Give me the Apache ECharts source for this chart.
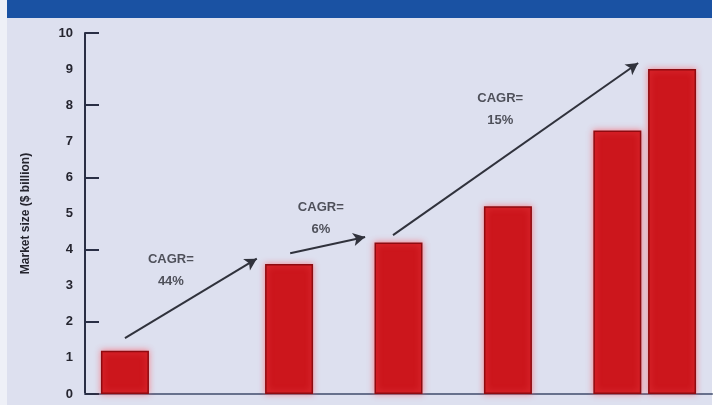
<!DOCTYPE html>
<html>
<head>
<meta charset="utf-8">
<script src="https://cdn.jsdelivr.net/npm/echarts@6/dist/echarts.min.js"></script>
<style>html,body{margin:0;padding:0;background:#fff;}#c{width:720px;height:405px;}</style>
</head>
<body>
<div id="c"></div>
<script>
// Data (x = years from first bar, y = market size in $ billion)
var yearOffsets = [0, 3, 5, 7, 9, 10];
var marketSize = [1.2, 3.6, 4.2, 5.2, 7.3, 9.0];
var yTickLabels = ['0','1','2','3','4','5','6','7','8','9','10'];
// CAGR arrows: [startX, startY, endX, endY]
var arrows = [
  [0.0, 1.55, 2.41, 3.75],
  [3.02, 3.9, 4.39, 4.35],
  [4.9, 4.4, 9.38, 9.17]
];
var cagrLabels = ['CAGR=\n44%', 'CAGR=\n6%', 'CAGR=\n15%'];
var cagrLabelPos = [[0.84, 3.43], [3.58, 4.87], [6.86, 7.87]];

var chart = echarts.init(document.getElementById('c'));
var barData = yearOffsets.map(function (x, i) { return [x, marketSize[i]]; });
var markLines = arrows.map(function (a) {
  return [{ coord: [a[0], a[1]] }, { coord: [a[2], a[3]] }];
});
var labelData = cagrLabelPos.map(function (p, i) {
  return { value: p, label: { formatter: cagrLabels[i] } };
});

chart.setOption({
  animation: false,
  backgroundColor: '#ffffff',
  graphic: [
    { type: 'rect', z: -10, shape: { x: 0, y: 0, width: 7, height: 405 }, style: { fill: '#eef0f7' } },
    { type: 'rect', z: -10, shape: { x: 7, y: 17, width: 705, height: 388 }, style: { fill: '#dde0ef' } },
    { type: 'rect', z: -10, shape: { x: 7, y: 0, width: 705, height: 18 }, style: { fill: '#1a52a3' } }
  ],
  grid: { left: 85, right: 8, top: 33, bottom: 11, containLabel: false },
  xAxis: {
    type: 'value',
    min: -0.73,
    max: 10.73,
    axisLine: { show: true, onZero: false, lineStyle: { color: '#66708c', width: 2 } },
    axisTick: { show: false },
    axisLabel: { show: false },
    splitLine: { show: false }
  },
  yAxis: [
    {
      type: 'value',
      min: 0, max: 10, interval: 1,
      name: 'Market size ($ billion)',
      nameLocation: 'middle',
      nameGap: 53,
      nameRotate: 90,
      nameTextStyle: { color: '#25252f', fontSize: 12, fontWeight: 'bold', fontFamily: 'Liberation Sans' },
      axisLine: { show: true, onZero: false, lineStyle: { color: '#2a2f45', width: 2 } },
      axisTick: { show: false },
      axisLabel: {
        color: '#25252f', fontSize: 13, margin: 12, fontWeight: 'bold', fontFamily: 'Liberation Sans',
        formatter: function (v) { return yTickLabels[v]; }
      },
      splitLine: { show: false }
    },
    {
      type: 'value',
      min: 0, max: 10, interval: 2,
      position: 'left',
      axisLine: { show: false, onZero: false },
      axisTick: { show: true, inside: true, length: 14, lineStyle: { color: '#2a2f45', width: 2 } },
      axisLabel: { show: false },
      splitLine: { show: false }
    }
  ],
  series: [
    {
      type: 'bar',
      data: barData,
      barWidth: 48,
      itemStyle: {
        color: '#cc161c',
        borderColor: '#8e0b10',
        borderWidth: 1.5,
        shadowBlur: 6,
        shadowColor: 'rgba(255,90,100,0.7)'
      },
      markLine: {
        silent: true,
        symbol: ['none', 'arrow'],
        symbolSize: [10, 12],
        label: { show: false },
        lineStyle: { color: '#30323c', width: 2, type: 'solid' },
        data: markLines
      }
    },
    {
      type: 'scatter',
      data: labelData,
      symbolSize: 0,
      label: {
        show: true,
        position: 'inside',
        color: '#2a2c34',
        fontSize: 13,
        fontWeight: 'bold',
        lineHeight: 22,
        align: 'center',
        fontFamily: 'Liberation Sans'
      }
    }
  ]
});
</script>
</body>
</html>
